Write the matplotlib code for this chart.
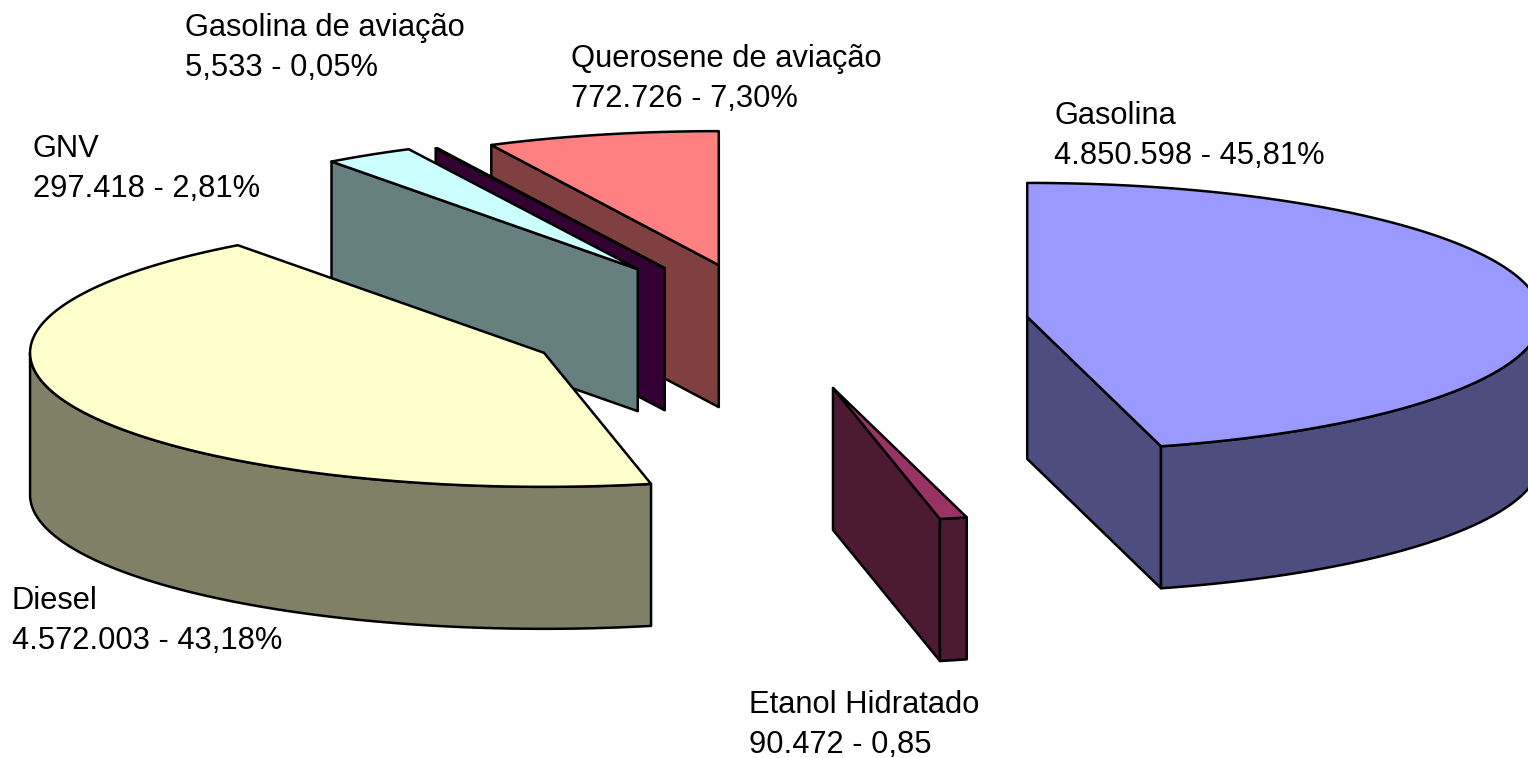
import numpy as np
import matplotlib
matplotlib.use("Agg")
import matplotlib.pyplot as plt
from matplotlib.patches import Polygon

# slices, clockwise from 12 o'clock
names = ["Gasolina", "Etanol Hidratado", "Diesel", "GNV", "Gasolina de aviação", "Querosene de aviação"]
values = [4850598, 90472, 4572003, 297418, 5533, 772726]
value_labels = ["4.850.598 - 45,81%", "90.472 - 0,85", "4.572.003 - 43,18%", "297.418 - 2,81%", "5,533 - 0,05%",
                "772.726 - 7,30%"]

top_colors = ["#9999FF", "#993366", "#FFFFCC", "#CCFFFF", "#660066", "#FF8080"]
side_colors = ["#4D4D80", "#4D1A33", "#808066", "#668080", "#330033", "#804040"]
label_pos = [(1054, 136), (749, 725), (12, 621), (33, 169), (185, 48), (571, 79)]
nudge = [(0, 0), (-2, -2), (0, 0), (-5, 0), (2, 2), (1, 4)]
draw_order = [5, 4, 3, 2, 1, 0]

# pie geometry in pixels
cx, cy = 775.5, 325.6
rx, ry = 514, 134
depth = 142
explode = 0.494
lw = 1.8


def point(t, x0, y0):
    return x0 + rx * np.sin(t), y0 - ry * np.cos(t)


def arc(t1, t2, x0, y0):
    t = np.linspace(t1, t2, 200)
    x, y = point(t, x0, y0)
    return np.column_stack([x, y])


def add_poly(ax, pts, color):
    ax.add_patch(Polygon(pts, closed=True, facecolor=color, edgecolor="black", linewidth=lw, joinstyle="round"))


def add_face(ax, t, x0, y0, color):
    px, py = point(t, x0, y0)
    add_poly(ax, [(x0, y0), (px, py), (px, py + depth), (x0, y0 + depth)], color)


fig = plt.figure(figsize=(15.28, 7.58), dpi=100)
ax = fig.add_axes([0, 0, 1, 1])
ax.set_xlim(0, 1528)
ax.set_ylim(758, 0)
ax.axis("off")

fracs = np.array(values) / sum(values)
ends = np.cumsum(fracs) * 2 * np.pi
starts = ends - fracs * 2 * np.pi

for i in draw_order:
    t1, t2 = starts[i], ends[i]
    mid = (t1 + t2) / 2
    x0 = cx + explode * rx * np.sin(mid) + nudge[i][0]
    y0 = cy - explode * ry * np.cos(mid) + nudge[i][1]

    # side faces that look towards the viewer
    if np.sin(t1) < 0:
        add_face(ax, t1, x0, y0, side_colors[i])
    if np.sin(t2) > 0:
        add_face(ax, t2, x0, y0, side_colors[i])

    # outer rim, only the front half of the ellipse shows
    r1, r2 = max(t1, np.pi / 2), min(t2, 3 * np.pi / 2)
    if r1 < r2:
        rim = arc(r1, r2, x0, y0)
        add_poly(ax, np.vstack([rim, (rim + [0, depth])[::-1]]), side_colors[i])

    add_poly(ax, np.vstack([[(x0, y0)], arc(t1, t2, x0, y0)]), top_colors[i])

for i in range(len(names)):
    ax.text(label_pos[i][0], label_pos[i][1], names[i] + "\n" + value_labels[i], family="Liberation Sans",
            fontsize=22.2, color="black", va="center", ha="left", linespacing=1.4)

fig.savefig("out.png", dpi=100, facecolor="white")
